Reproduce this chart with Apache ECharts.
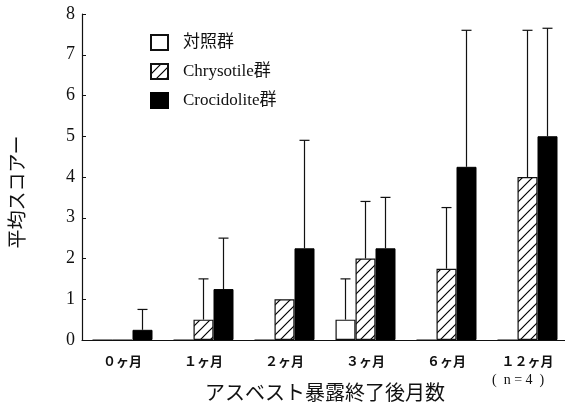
<!DOCTYPE html>
<html><head><meta charset="utf-8">
<script src="https://cdn.jsdelivr.net/npm/echarts@6/dist/echarts.min.js"></script>
<style>html,body{margin:0;padding:0;background:#fff}#c{width:565px;height:410px}</style>
</head><body><div id="c"></div>
<script>
const categories = ['０ヶ月', '１ヶ月', '２ヶ月', '３ヶ月', '６ヶ月', '１２ヶ月'];
const seriesNames = ['対照群', 'Chrysotile群', 'Crocidolite群'];
const controlMean = [0, 0, 0, 0.5, 0, 0];
const controlTop  = [0, 0, 0, 1.5, 0, 0];
const chrysMean   = [0, 0.5, 1.0, 2.0, 1.75, 4.0];
const chrysTop    = [0, 1.5, 1.0, 3.4, 3.25, 7.6];
const crociMean   = [0.25, 1.25, 2.25, 2.25, 4.25, 5.0];
const crociTop    = [0.75, 2.5, 4.9, 3.5, 7.6, 7.65];
const yTicks = [0, 1, 2, 3, 4, 5, 6, 7, 8];

const serif = '"Liberation Serif", "Noto Sans CJK JP", serif';
const cjk = '"Noto Sans CJK JP", sans-serif';

// hatch pattern
const tile = document.createElement('canvas');
const S = 10; tile.width = S; tile.height = S;
const g = tile.getContext('2d');
g.fillStyle = '#fff'; g.fillRect(0, 0, S, S);
g.strokeStyle = '#000'; g.lineWidth = 1.2;
g.beginPath();
g.moveTo(0, S); g.lineTo(S, 0);
g.moveTo(-1, 1); g.lineTo(1, -1);
g.moveTo(S - 1, S + 1); g.lineTo(S + 1, S - 1);
g.stroke();
const hatch = { image: tile, repeat: 'repeat' };

const BW = 20;
function errSeries(means, tops, offset) {
  return {
    type: 'custom',
    z: 5,
    data: means.map((m, i) => [i, m, tops[i]]),
    renderItem: function (params, api) {
      const m = api.value(1), t = api.value(2);
      if (t <= m) return null;
      const x = api.coord([api.value(0), 0])[0] + offset;
      const y1 = api.coord([api.value(0), m])[1];
      const y2 = api.coord([api.value(0), t])[1];
      const st = { stroke: '#111', lineWidth: 1.2 };
      return { type: 'group', children: [
        { type: 'line', shape: { x1: x, y1: y1, x2: x, y2: y2 }, style: st },
        { type: 'line', shape: { x1: x - 5, y1: y2, x2: x + 5, y2: y2 }, style: st }
      ]};
    }
  };
}

const chart = echarts.init(document.getElementById('c'));
chart.setOption({
  animation: false,
  backgroundColor: '#fff',
  grid: { left: 82, top: 14, bottom: 70, right: -3, outerBoundsMode: 'none', containLabel: false },
  legend: {
    orient: 'vertical', left: 145, top: 29,
    itemWidth: 17, itemHeight: 15, itemGap: 12,
    icon: 'rect',
    data: seriesNames,
    textStyle: { fontFamily: serif, fontSize: 17, color: '#111', padding: [0, 0, 0, 10] }
  },
  xAxis: {
    type: 'category', data: categories,
    axisLine: { lineStyle: { color: '#111', width: 1.2 } },
    axisTick: { show: false },
    axisLabel: { fontFamily: cjk, fontSize: 13, color: '#111', margin: 15, fontWeight: 'bold' },
    name: 'アスベスト暴露終了後月数', nameLocation: 'middle', nameGap: 42,
    nameTextStyle: { fontFamily: cjk, fontSize: 20, color: '#111' }
  },
  yAxis: {
    type: 'value', min: 0, max: 8, interval: 1,
    axisLine: { show: true, lineStyle: { color: '#111', width: 1.2 } },
    axisTick: { show: true, inside: true, length: 4, lineStyle: { color: '#111' } },
    splitLine: { show: false },
    axisLabel: { fontFamily: serif, fontSize: 18, color: '#111', margin: 7,
      formatter: v => yTicks.includes(v) ? String(v) : '' }
  },
  graphic: [
    { type: 'text', x: 17, y: 192, rotation: Math.PI / 2,
      style: { text: '平均スコアー', font: '19px "Noto Sans CJK JP"', fill: '#111', align: 'center', verticalAlign: 'middle' } },
    { type: 'text', left: 492, top: 373, style: { text: '(  n = 4  )', font: '14px "Liberation Serif"', fill: '#111' } }
  ],
  series: [
    { name: seriesNames[0], type: 'bar', barWidth: BW, barGap: '0%', data: controlMean,
      itemStyle: { color: '#fff', borderColor: '#111', borderWidth: 1.2 } },
    { name: seriesNames[1], type: 'bar', barWidth: BW, barGap: '0%', data: chrysMean,
      itemStyle: { color: hatch, borderColor: '#111', borderWidth: 1.2 } },
    { name: seriesNames[2], type: 'bar', barWidth: BW, barGap: '0%', data: crociMean,
      itemStyle: { color: '#000', borderColor: '#000', borderWidth: 1 } },
    errSeries(controlMean, controlTop, -BW),
    errSeries(chrysMean, chrysTop, 0),
    errSeries(crociMean, crociTop, BW)
  ]
});
</script></body></html>
